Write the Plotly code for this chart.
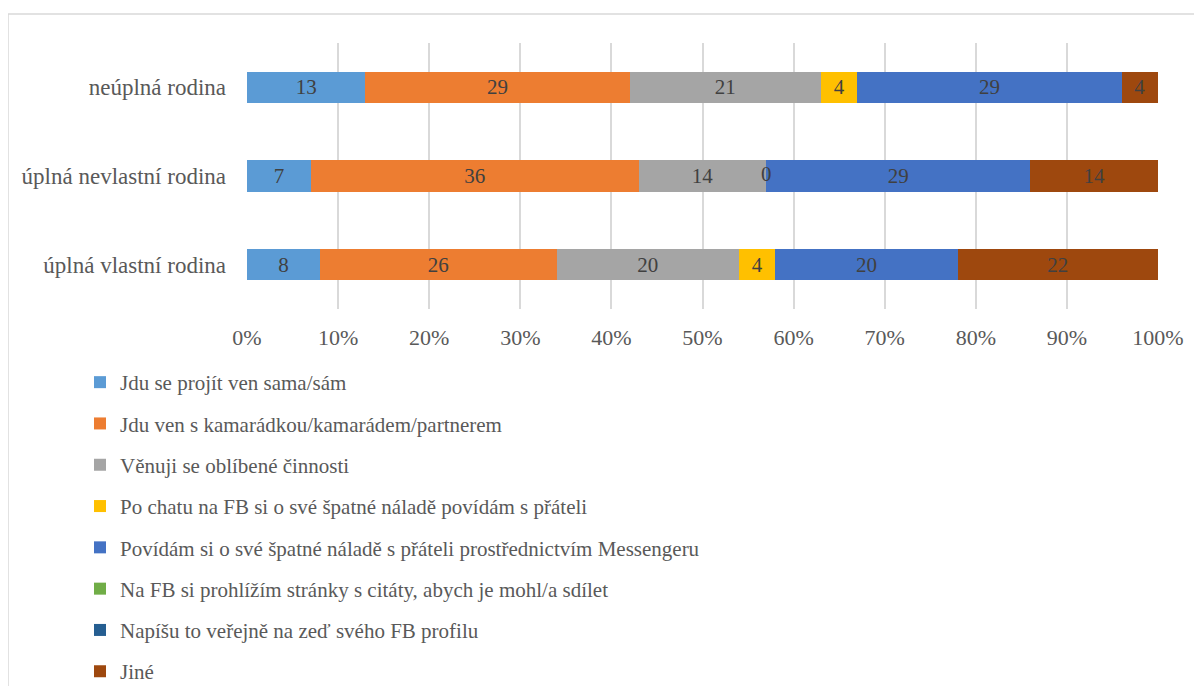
import plotly.graph_objects as go

categories = ["neúplná rodina", "úplná nevlastní rodina", "úplná vlastní rodina"]

series_names = [
    "Jdu se projít ven sama/sám",
    "Jdu ven s kamarádkou/kamarádem/partnerem",
    "Věnuji se oblíbené činnosti",
    "Po chatu na FB si o své špatné náladě povídám s přáteli",
    "Povídám si o své špatné náladě s přáteli prostřednictvím Messengeru",
    "Na FB si prohlížím stránky s citáty, abych je mohl/a sdílet",
    "Napíšu to veřejně na zeď svého FB profilu",
    "Jiné",
]

projit_sam = [13, 7, 8]
s_kamaradem = [29, 36, 26]
oblibena_cinnost = [21, 14, 20]
chat_fb = [4, 0, 4]
messenger = [29, 29, 20]
citaty_fb = [None, None, None]
zed_fb = [None, None, None]
jine = [4, 14, 22]

series_values = [projit_sam, s_kamaradem, oblibena_cinnost, chat_fb,
                 messenger, citaty_fb, zed_fb, jine]

colors = ["#5B9BD5", "#ED7D31", "#A5A5A5", "#FFC000",
          "#4472C4", "#70AD47", "#255E91", "#9E480E"]

SERIF = "Liberation Serif"
# page body has an 8px margin, so the figure is drawn 8px in from the corner
W, H = 1194, 678
L, R, T, B = 239, 44, 35, 377
pw, ph = W - L - R, H - T - B

fig = go.Figure()

for i, (name, vals, col) in enumerate(zip(series_names, series_values, colors)):
    text = [("" if v is None or v == 0 else str(v)) for v in vals]
    fig.add_trace(
        go.Bar(
            y=categories,
            x=[0 if v is None else v for v in vals],
            orientation="h",
            name=name,
            legendgroup=f"g{i}",
            marker=dict(color=col, line=dict(width=0)),
            text=text,
            textposition="inside",
            insidetextanchor="middle",
            textangle=0,
            textfont=dict(family=SERIF, size=21, color="#404040"),
            hoverinfo="name+x",
        )
    )

# zero-valued labels (bar has no width, so label drawn at its position)
for j, cat in enumerate(categories):
    for k, vals in enumerate(series_values):
        if vals[j] == 0:
            start = sum((series_values[m][j] or 0) for m in range(k))
            fig.add_trace(
                go.Scatter(
                    x=[start], y=[cat], mode="text", text=["0"],
                    textfont=dict(family=SERIF, size=21, color="#404040"),
                    showlegend=False, hoverinfo="skip", cliponaxis=False,
                )
            )

fig.update_layout(
    width=W, height=H,
    barmode="stack",
    bargap=0.65,
    plot_bgcolor="white",
    paper_bgcolor="white",
    margin=dict(l=L, r=R, t=T, b=B, autoexpand=False),
    font=dict(family=SERIF, color="#595959"),
    legend=dict(
        xref="container", yref="container",
        x=72 / W, xanchor="left",
        y=1 - 354 / H, yanchor="top",
        traceorder="grouped",
        tracegroupgap=11,
        font=dict(family=SERIF, size=21, color="#595959"),
        itemwidth=30,
        bgcolor="rgba(0,0,0,0)",
        maxheight=1,
    ),
    showlegend=True,
    shapes=[
        dict(type="rect", xref="paper", yref="paper",
             x0=(0 - L) / pw, x1=(W + 20 - L) / pw,
             y0=(H - B - (H + 20)) / ph, y1=(H - B - 6) / ph,
             line=dict(color="#D9D9D9", width=1.5), layer="below"),
    ],
)

fig.update_xaxes(
    range=[0, 100],
    tickvals=[0, 10, 20, 30, 40, 50, 60, 70, 80, 90, 100],
    ticktext=["0%", "10%", "20%", "30%", "40%", "50%", "60%", "70%", "80%", "90%", "100%"],
    showgrid=True, gridcolor="#D9D9D9", gridwidth=1.5,
    zeroline=False, showline=False,
    tickfont=dict(family=SERIF, size=22, color="#595959"),
    ticklabelstandoff=13,
)
fig.update_yaxes(
    autorange="reversed",
    showgrid=False, zeroline=False, showline=False,
    tickfont=dict(family=SERIF, size=23, color="#595959"),
    ticklabelstandoff=20,
)

fig.write_html("out.html")
